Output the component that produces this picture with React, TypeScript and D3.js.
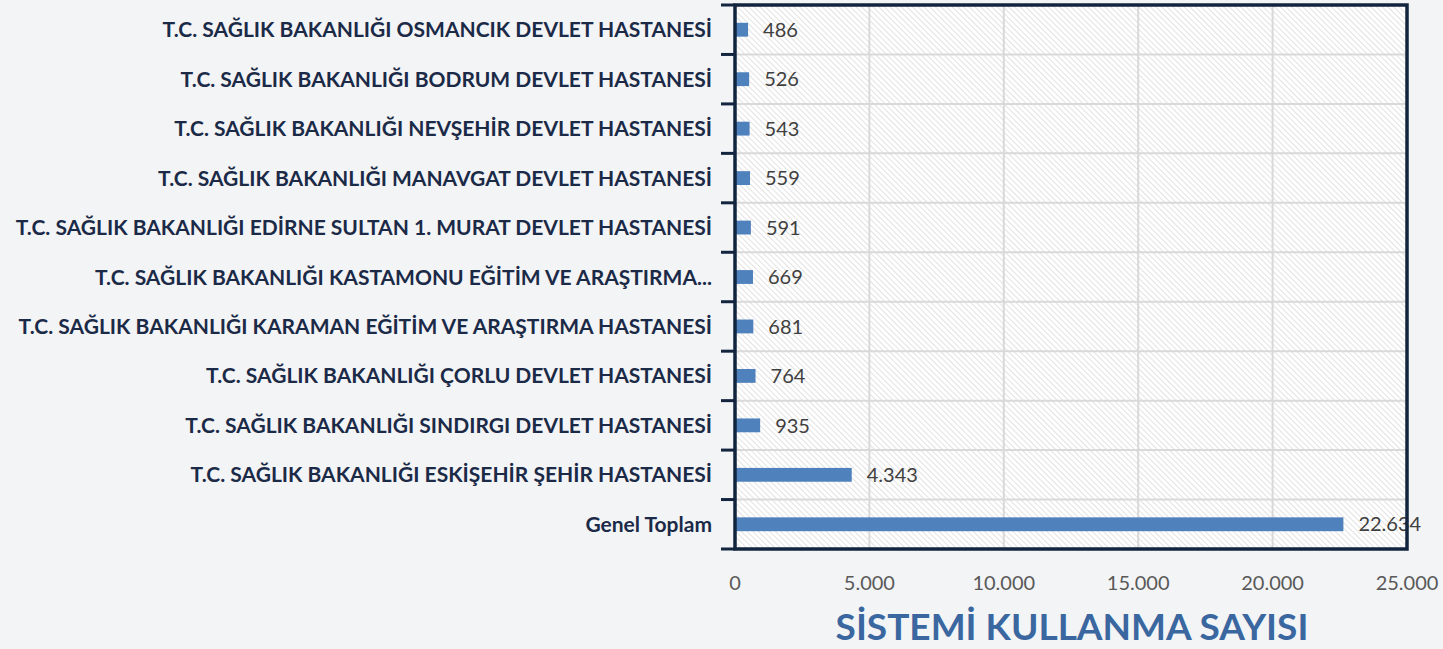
import React from "react";
import * as d3 from "d3";

const categories = [
  "T.C. SAĞLIK BAKANLIĞI OSMANCIK DEVLET HASTANESİ",
  "T.C. SAĞLIK BAKANLIĞI BODRUM DEVLET HASTANESİ",
  "T.C. SAĞLIK BAKANLIĞI NEVŞEHİR DEVLET HASTANESİ",
  "T.C. SAĞLIK BAKANLIĞI MANAVGAT DEVLET HASTANESİ",
  "T.C. SAĞLIK BAKANLIĞI EDİRNE SULTAN 1. MURAT DEVLET HASTANESİ",
  "T.C. SAĞLIK BAKANLIĞI KASTAMONU EĞİTİM VE ARAŞTIRMA...",
  "T.C. SAĞLIK BAKANLIĞI KARAMAN EĞİTİM VE ARAŞTIRMA HASTANESİ",
  "T.C. SAĞLIK BAKANLIĞI ÇORLU DEVLET HASTANESİ",
  "T.C. SAĞLIK BAKANLIĞI SINDIRGI DEVLET HASTANESİ",
  "T.C. SAĞLIK BAKANLIĞI ESKİŞEHİR ŞEHİR HASTANESİ",
  "Genel Toplam",
];
const values = [486, 526, 543, 559, 591, 669, 681, 764, 935, 4343, 22634];
const xTicks = [0, 5000, 10000, 15000, 20000, 25000];
const title = "SİSTEMİ KULLANMA SAYISI";

const W = 1443;
const H = 649;
const left = 735;
const right = 1407;
const top = 5;
const bottom = 549;

const fmt = (v: number) => d3.format(",")(v).replace(/,/g, ".");

export default function App() {
  const x = d3.scaleLinear().domain([0, 25000]).range([left, right]);
  const y = d3
    .scaleBand<string>()
    .domain(categories)
    .range([top, bottom])
    .paddingInner(0.72)
    .paddingOuter(0.36);
  const bounds = d3.range(categories.length + 1).map((i) => top + (i * (bottom - top)) / categories.length);

  return (
    <div style={{ position: "absolute", left: 0, top: 0, width: W, height: H }}>
      <svg width={W} height={H} style={{ display: "block" }}>
        <defs>
          <pattern
            id="hatch"
            patternUnits="userSpaceOnUse"
            width={4}
            height={4}
            patternTransform="rotate(-45)"
          >
            <rect width={4} height={4} fill="#ffffff" />
            <line x1={0} y1={0} x2={0} y2={4} stroke="#cfcfcf" strokeWidth={1.2} />
          </pattern>
        </defs>
        <rect width={W} height={H} fill="#f3f4f6" />
        <rect x={left} y={top} width={right - left} height={bottom - top} fill="url(#hatch)" />
        {xTicks.slice(1).map((t) => (
          <line key={"gx" + t} x1={x(t)} x2={x(t)} y1={top} y2={bottom} stroke="#d9d9d9" strokeWidth={2} />
        ))}
        {bounds.slice(1, -1).map((b, i) => (
          <line key={"gy" + i} x1={left} x2={right} y1={b} y2={b} stroke="#d9d9d9" strokeWidth={2} />
        ))}
        {bounds.map((b, i) => (
          <line key={"tk" + i} x1={721} x2={left} y1={b} y2={b} stroke="#13243f" strokeWidth={3} />
        ))}
        {categories.map((c, i) => (
          <rect
            key={"b" + i}
            x={x(0)}
            y={y(c)!}
            width={x(values[i]) - x(0)}
            height={y.bandwidth()}
            fill="#4f81bd"
          />
        ))}
        {categories.map((c, i) => (
          <text
            key={"v" + i}
            x={x(values[i]) + 15}
            y={y(c)! + y.bandwidth() / 2}
            dy="0.36em"
            fontFamily="Lato, 'Open Sans', sans-serif"
            fontSize={20}
            fill="#404040"
          >
            {fmt(values[i])}
          </text>
        ))}
        <rect
          x={left}
          y={top}
          width={right - left}
          height={bottom - top}
          fill="none"
          stroke="#13243f"
          strokeWidth={3.5}
        />
        {categories.map((c, i) => (
          <text
            key={"c" + i}
            x={712}
            y={y(c)! + y.bandwidth() / 2}
            dy="0.36em"
            textAnchor="end"
            fontFamily="Lato, 'Open Sans', sans-serif"
            fontWeight="bold"
            fontSize={21}
            fill="#1b2a47"
          >
            {c}
          </text>
        ))}
        {xTicks.map((t) => (
          <text
            key={"xt" + t}
            x={x(t)}
            y={583}
            dy="0.36em"
            textAnchor="middle"
            fontFamily="Lato, 'Open Sans', sans-serif"
            fontSize={20}
            fill="#595959"
          >
            {fmt(t)}
          </text>
        ))}
        <text
          x={1072}
          y={640}
          textAnchor="middle"
          fontFamily="Lato, 'Open Sans', sans-serif"
          fontWeight="bold"
          fontSize={37}
          fill="#3a67a0"
        >
          {title}
        </text>
      </svg>
    </div>
  );
}
